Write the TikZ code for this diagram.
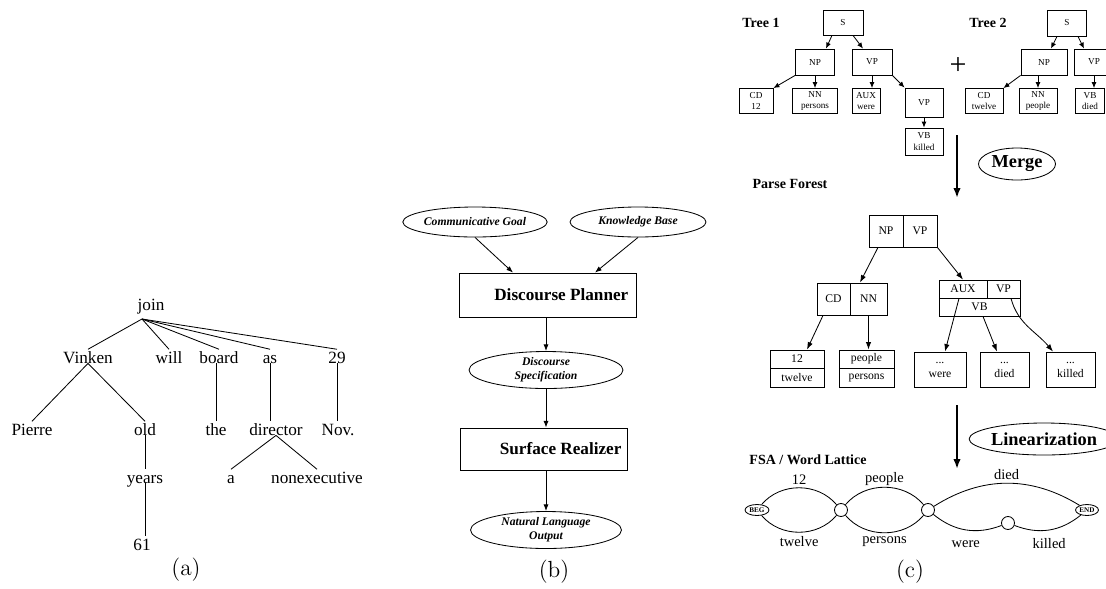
\documentclass[tikz,border=0pt]{standalone}
\usepackage{fontspec}
\newfontfamily\tms{Liberation Serif}
\usetikzlibrary{arrows.meta,shapes.geometric}
\begin{document}
\begin{tikzpicture}[x=0.6pt, y=-0.6pt, line width=0.5pt,
    sz/.style 2 args={minimum width=#1*0.6pt, minimum height=#2*0.6pt},
    word/.style={font=\tms\fontsize{10.3}{12}\selectfont, inner sep=0pt, text height=8pt, text depth=0pt, anchor=base},
    goal/.style={ellipse, draw, inner sep=0pt, align=center, font=\tms\fontsize{7}{8.6}\selectfont\bfseries\itshape},
    stage/.style={draw, inner sep=0pt, font=\tms\fontsize{10.3}{12}\selectfont\bfseries},
    flow/.style={-{Latex[length=4pt,width=3pt]}},
    paneltitle/.style={font=\tms\fontsize{8.4}{10}\selectfont\bfseries, inner sep=0pt},
    tbox/.style={draw, inner sep=0pt, align=center, font=\tms\fontsize{5.5}{6.8}\selectfont},
    tarrow/.style={-{Latex[length=3.6pt,width=3pt]}},
    fbox/.style={draw, inner sep=0pt, align=center, font=\tms\fontsize{7}{8.4}\selectfont},
    farrow/.style={-{Latex[length=4.5pt,width=3.2pt]}},
    bigarrow/.style={-{Latex[length=6pt,width=4.5pt]}, line width=1.2pt},
    oval/.style={ellipse, draw, inner sep=0pt, font=\tms\fontsize{11}{13}\selectfont\bfseries},
    state/.style={circle, draw, minimum size=7.8pt, inner sep=0pt},
    endpt/.style={ellipse, draw, inner sep=0pt, font=\tms\fontsize{4.3}{5}\selectfont\bfseries},
    lat/.style={font=\tms\fontsize{8.7}{10}\selectfont, inner sep=0pt},
    caption/.style={font=\fontsize{14}{16}\selectfont}]
  \clip (0,0) rectangle (1106,588);

  % (a)
  \node[word] (join) at (151,310) {join};
  \node[word] (vinken) at (88,363) {Vinken};
  \node[word] (will) at (169,363) {will};
  \node[word] (board) at (219,363) {board};
  \node[word] (as) at (270,363) {as};
  \node[word] (n29) at (337,363) {29};
  \node[word] (pierre) at (32,435) {Pierre};
  \node[word] (old) at (145,435) {old};
  \node[word] (the) at (216,435) {the};
  \node[word] (director) at (276,435) {director};
  \node[word] (nov) at (338,435) {Nov.};
  \node[word] (years) at (145,483) {years};
  \node[word] (a) at (231,483) {a};
  \node[word] (nonexec) at (317,483) {nonexecutive};
  \node[word] (n61) at (142,550) {61};
  \coordinate (jroot) at ([xshift=-5.4pt,yshift=-5.4pt]join.base);
  \foreach \w in {vinken,will,board,as,n29}
    \draw (jroot) -- (\w.north);
  \draw (vinken.south) -- (pierre.north);
  \draw (vinken.south) -- (old.north);
  \draw (the.north |- board.south) -- (the.north);
  \draw (as.south) -- (as.south |- director.north);
  \draw (n29.south) -- (n29.south |- nov.north);
  \draw (old.south) -- (old.south |- years.north);
  \draw (director.south) -- (a.north);
  \draw (director.south) -- (nonexec.north);
  \draw (years.south) -- (years.south |- n61.north);
  \node[caption] (capa) at (186,570) {(a)};

  % (b)
  \node[goal, sz={144}{30}] (cgoal) at (475,222) {Communicative Goal};
  \node[goal, sz={136}{30}] (kbase) at (638,222) {Knowledge Base};
  \node[stage, sz={177}{44}] (planner) at (548,295) {\hspace*{16pt}Discourse Planner};
  \node[goal, sz={154}{37}] (dspec) at (546,370) {Discourse\\Specification};
  \node[stage, sz={167}{42}] (realizer) at (544,449) {\hspace*{20pt}Surface Realizer};
  \node[goal, sz={151}{37}] (nlout) at (546,530) {Natural Language\\Output};
  \draw[flow] (cgoal.south) -- ([xshift=-21pt]planner.north);
  \draw[flow] (kbase.south) -- ([xshift=28.2pt]planner.north);
  \draw[flow] (dspec.north |- planner.south) -- (dspec.north);
  \draw[flow] (dspec.south) -- (dspec.south |- realizer.north);
  \draw[flow] (dspec.south |- realizer.south) -- (nlout.north);
  \node[caption] (capb) at (554,572) {(b)};

  % (c) input trees
  \node[paneltitle] (tree1) at (761,23) {Tree 1};
  \node[tbox, sz={40}{25}] (t1s) at (843,22.5) {S};
  \node[tbox, sz={39}{26}] (t1np) at (815,62) {NP};
  \node[tbox, sz={40}{26}] (t1vp) at (872,62) {VP};
  \node[tbox, sz={34}{25}] (t1cd) at (756,101) {CD\\12};
  \node[tbox, sz={45}{25}] (t1nn) at (815,101) {NN\\persons};
  \node[tbox, sz={28}{25}] (t1aux) at (866,101) {AUX\\were};
  \node[tbox, sz={38}{29}] (t1vpb) at (924,102.5) {VP};
  \node[tbox, sz={38}{27}] (t1vb) at (924,141.5) {VB\\killed};
  \draw[tarrow] ([xshift=-6.6pt]t1s.south) -- ([xshift=6.6pt]t1np.north);
  \draw[tarrow] ([xshift=6pt]t1s.south) -- ([xshift=-5.4pt]t1vp.north);
  \draw[tarrow] (t1np.south west) -- (t1cd.north east);
  \draw[tarrow] (t1np.south) -- (t1np.south |- t1nn.north);
  \draw[tarrow] (t1vp.south) -- (t1vp.south |- t1aux.north);
  \draw[tarrow] (t1vp.south east) -- (t1vpb.north west);
  \draw[tarrow] (t1vpb.south) -- (t1vb.north);

  \node[font=\tms\fontsize{18}{20}\selectfont, inner sep=0pt] (plus) at (958,66) {+};

  \node[paneltitle] (tree2) at (988,23) {Tree 2};
  \node[tbox, sz={39}{26}] (t2s) at (1067,23) {S};
  \node[tbox, sz={46}{26}] (t2np) at (1044,62) {NP};
  \node[tbox, sz={40}{26}] (t2vp) at (1094,62) {VP};
  \node[tbox, sz={38}{25}] (t2cd) at (984,101) {CD\\twelve};
  \node[tbox, sz={38}{25}] (t2nn) at (1038,101) {NN\\people};
  \node[tbox, sz={29}{25}] (t2vb) at (1090,101) {VB\\died};
  \draw[tarrow] ([xshift=-6pt]t2s.south) -- ([xshift=4.2pt]t2np.north);
  \draw[tarrow] ([xshift=6.6pt]t2s.south) -- ([xshift=-6pt]t2vp.north);
  \draw[tarrow] (t2np.south west) -- (t2cd.north east);
  \draw[tarrow] (t2nn.north |- t2np.south) -- (t2nn.north);
  \draw[tarrow] (t2vp.south) -- (t2vp.south |- t2vb.north);

  \coordinate (mtop) at (957,135);
  \coordinate (mbot) at (957,198);
  \draw[bigarrow] (mtop) -- (mbot);
  \node[oval, sz={77}{32}] (merge) at (1017,164) {Merge};

  % (c) parse forest
  \node[paneltitle] (forest) at (790,184) {Parse Forest};
  \node[fbox, sz={34}{32}] (fnp) at (886,231) {NP};
  \node[fbox, sz={34}{32}] (fvp) at (920,231) {VP};
  \node[fbox, sz={33}{32}] (fcd) at (833.5,299) {CD};
  \node[fbox, sz={37}{32}] (fnn) at (868.5,299) {NN};
  \node[fbox, sz={48}{18}] (faux) at (963,289) {AUX};
  \node[fbox, sz={33}{18}] (fvpb) at (1003.5,289) {VP};
  \node[fbox, sz={81}{18}] (fvb) at (979.5,307) {VB};
  \node[fbox, sz={54}{18}] (f12) at (797,359) {12};
  \node[fbox, sz={54}{19}] (ftw) at (797,377.5) {twelve};
  \node[fbox, sz={55}{18}] (fpe) at (866.5,359) {people};
  \node[fbox, sz={55}{19}] (fps) at (866.5,377.5) {persons};
  \node[fbox, sz={52}{35}] (fwere) at (940,369.5) {...\\were};
  \node[fbox, sz={49}{35}] (fdied) at (1004.5,369.5) {...\\died};
  \node[fbox, sz={49}{35}] (fkilled) at (1070.5,369.5) {...\\killed};
  \draw[farrow] ([xshift=-4.8pt]fnp.south) -- ([xshift=-5.1pt]fnn.north);
  \draw[farrow] (fvp.south east) -- (faux.north);
  \draw[farrow] ([xshift=-6.3pt]fcd.south) -- ([xshift=6pt]f12.north);
  \draw[farrow] (fnn.south) -- (fnn.south |- fpe.north);
  \draw[farrow] ([xshift=-2.4pt]faux.south) -- ([xshift=3pt]fwere.north);
  \draw[farrow] ([xshift=2.1pt]fvb.south) -- ([xshift=-4.5pt]fdied.north);
  \draw[farrow] ([xshift=4.5pt]fvpb.south) to[out=-75,in=130] ([xshift=-10.5pt]fkilled.north);

  \coordinate (ltop) at (957,405);
  \coordinate (lbot) at (957,469);
  \draw[bigarrow] (ltop) -- (lbot);
  \node[oval, sz={132}{32}] (linear) at (1044,439) {Linearization};

  % (c) word lattice
  \node[paneltitle] (fsa) at (808,460) {FSA / Word Lattice};
  \node[endpt, sz={24}{11}] (beg) at (757,510) {BEG};
  \node[state] (s1) at (841,510) {};
  \node[state] (s2) at (928,510) {};
  \node[state] (s3) at (1008,523) {};
  \node[endpt, sz={23}{11}] (fin) at (1087,510) {END};
  \draw (beg) to[bend left=50] node[lat, above=1.5pt] {12} (s1);
  \draw (beg) to[bend right=50] node[lat, below=2pt] {twelve} (s1);
  \draw (s1) to[bend left=50] node[lat, above=1pt] {people} (s2);
  \draw (s1) to[bend right=50] node[lat, below=2pt] {persons} (s2);
  \draw (s2) to[bend left=32] node[lat, above=2pt] {died} (fin);
  \draw (s2) to[bend right=30] node[lat, below=6pt] {were} (s3);
  \draw (s3) to[bend right=30] node[lat, below=5pt] {killed} (fin);
  \node[caption] (capc) at (910,572) {(c)};
\end{tikzpicture}
\end{document}
